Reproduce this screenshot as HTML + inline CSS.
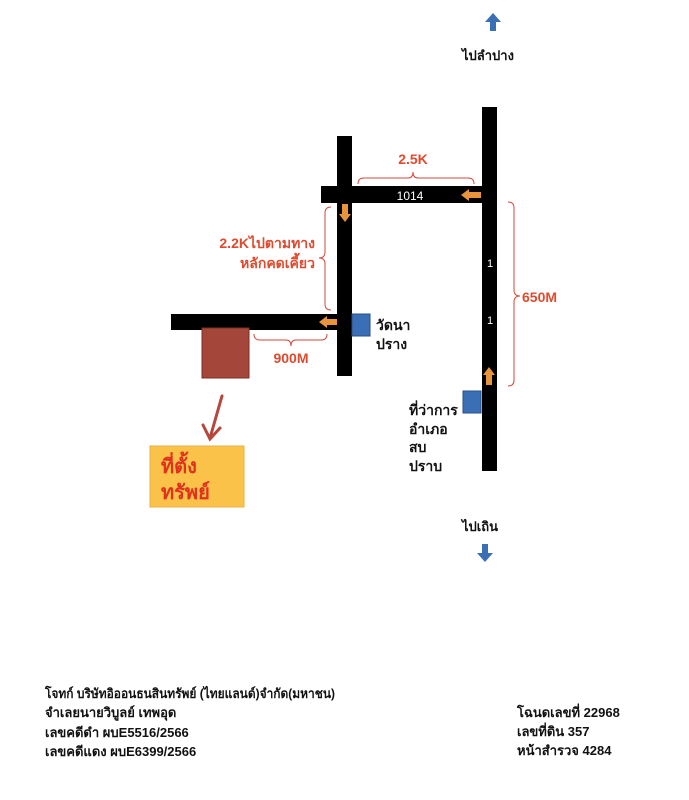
<!DOCTYPE html>
<html><head><meta charset="utf-8"><style>
body{margin:0;background:#fff;width:689px;height:800px;overflow:hidden}
svg{display:block}
text{font-family:"Liberation Sans","DejaVu Sans",sans-serif}
</style></head><body>
<svg width="689" height="800" xmlns="http://www.w3.org/2000/svg">
<!-- roads -->
<rect x="482" y="107" width="15" height="364" fill="#000"/>
<rect x="337" y="136" width="15" height="240" fill="#000"/>
<rect x="321" y="186" width="162" height="17" fill="#000"/>
<rect x="171" y="314" width="168" height="16" fill="#000"/>
<text x="410" y="200" fill="#fff" font-size="12" text-anchor="middle">1014</text>
<text x="490" y="267" fill="#fff" font-size="11" text-anchor="middle">1</text>
<text x="490" y="324" fill="#fff" font-size="11" text-anchor="middle">1</text>
<!-- orange arrows -->
<g fill="#e8943c">
<polygon points="461,195 469,189 469,192 481,192 481,198 469,198 469,201"/>
<polygon points="319,322 327,316 327,319 337,319 337,325 327,325 327,328"/>
<polygon points="345,222 339,214 342,214 342,204 348,204 348,214 351,214"/>
<polygon points="489,367 483,375 486,375 486,385 492,385 492,375 495,375"/>
</g>
<!-- brown property -->
<rect x="202" y="328" width="47" height="50" fill="#a5463a" stroke="#7a2e25" stroke-width="1"/>
<!-- blue squares -->
<rect x="352" y="314" width="18" height="22" fill="#3a6fb5" stroke="#2a4f85"/>
<rect x="463" y="391" width="18" height="22" fill="#3a6fb5" stroke="#2a4f85"/>
<!-- brackets -->
<g fill="none" stroke="#d04a3a" stroke-width="1">
<path d="M358,184 Q358,178 364,178 L408,178 Q413,178 413,172 Q413,178 418,178 L468,178 Q474,178 474,184"/>
<path d="M508,202 Q514,202 514,208 L514,290 Q514,296 520,296 Q514,296 514,302 L514,380 Q514,386 508,386"/>
<path d="M331,207 Q325,207 325,213 L325,252 Q325,258 319,258 Q325,258 325,264 L325,304 Q325,310 331,310"/>
<path d="M254,334 Q254,340 260,340 L286,340 Q291,340 291,346 Q291,340 296,340 L321,340 Q327,340 327,334"/>
</g>
<g fill="#e04a2e" font-weight="bold" font-size="14">
<text x="413" y="164" text-anchor="middle">2.5K</text>
<text x="522" y="302">650M</text>
<text x="315" y="248" text-anchor="end">2.2Kไปตามทาง</text>
<text x="315" y="268" text-anchor="end">หลักคดเคี้ยว</text>
<text x="291" y="363" text-anchor="middle">900M</text>
</g>
<g font-size="14" fill="#111" font-weight="bold">
<text x="376" y="330">วัดนา</text>
<text x="376" y="349">ปราง</text>
<text x="409" y="415">ที่ว่าการ</text>
<text x="409" y="434">อำเภอ</text>
<text x="409" y="452">สบ</text>
<text x="409" y="471">ปราบ</text>
<text x="462" y="60" font-size="13">ไปลำปาง</text>
<text x="462" y="531" font-size="13">ไปเถิน</text>
</g>
<!-- blue direction arrows -->
<polygon fill="#3a6fb5" points="493,13 485,22 490,22 490,31 496,31 496,22 501,22"/>
<polygon fill="#3a6fb5" points="485,562 477,553 482,553 482,544 488,544 488,553 493,553"/>
<!-- red pointer arrow -->
<g stroke="#b5473c" stroke-width="3" fill="none" stroke-linecap="round">
<line x1="222" y1="396" x2="210" y2="438"/>
<polyline points="203,425 210,439 220,428"/>
</g>
<!-- yellow box -->
<rect x="150" y="446" width="94" height="61" fill="#fbc24a" stroke="#e8b040"/>
<text x="161" y="473" font-size="20" font-weight="bold" fill="#e0301e">ที่ตั้ง</text>
<text x="161" y="499" font-size="20" font-weight="bold" fill="#e0301e">ทรัพย์</text>
<!-- bottom text -->
<g font-size="13" fill="#111" font-weight="bold">
<text x="45" y="698" textLength="290" lengthAdjust="spacingAndGlyphs">โจทก์ บริษัทอิออนธนสินทรัพย์ (ไทยแลนด์)จำกัด(มหาชน)</text>
<text x="45" y="717">จำเลยนายวิบูลย์ เทพอุด</text>
<text x="45" y="737">เลขคดีดำ ผบE5516/2566</text>
<text x="45" y="756">เลขคดีแดง ผบE6399/2566</text>
<text x="517" y="717">โฉนดเลขที่ 22968</text>
<text x="517" y="736">เลขที่ดิน  357</text>
<text x="517" y="755">หน้าสำรวจ 4284</text>
</g>
</svg>
</body></html>
